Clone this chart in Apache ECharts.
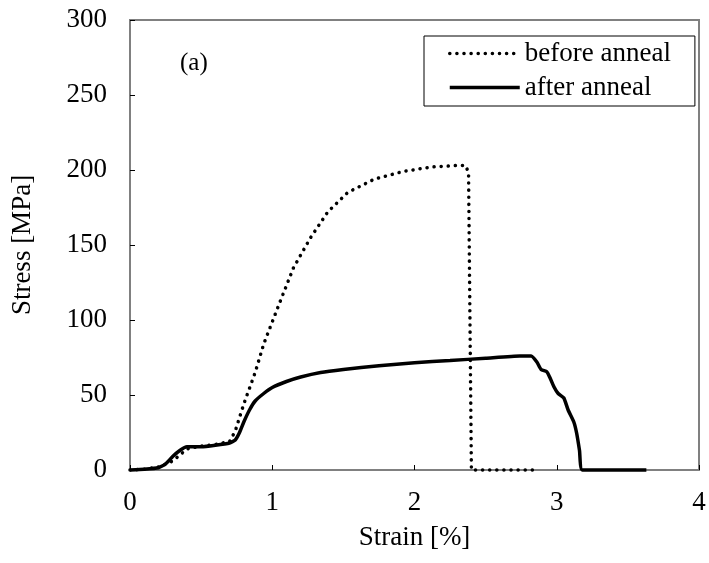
<!DOCTYPE html>
<html><head><meta charset="utf-8">
<script src="https://cdn.jsdelivr.net/npm/echarts@6/dist/echarts.min.js"></script>
<style>html,body{margin:0;padding:0;background:#fff}#c{width:709px;height:563px}</style>
</head><body><div id="c"></div>
<script>
const beforeX = [0, 0.1, 0.2, 0.3, 0.35, 0.4, 0.5, 0.6, 0.7, 0.74, 0.8, 0.88, 0.94, 1.05, 1.15, 1.27, 1.39, 1.53, 1.72, 1.92, 2.12, 2.3, 2.36, 2.38, 2.4, 2.85];
const beforeY = [0, 0.5, 2, 6, 10, 14, 16, 17, 19, 26, 44, 65, 84, 111, 135, 155, 172, 185, 194, 199, 202, 203, 203, 198, 0, 0];
const afterX = [0, 0.1, 0.2, 0.25, 0.3, 0.35, 0.4, 0.5, 0.6, 0.7, 0.74, 0.77, 0.8, 0.84, 0.88, 0.94, 1.0, 1.1, 1.2, 1.34, 1.5, 1.75, 2.0, 2.25, 2.5, 2.74, 2.82, 2.86, 2.89, 2.93, 2.95, 2.98, 3.01, 3.05, 3.08, 3.12, 3.14, 3.16, 3.18, 3.63];
const afterY = [0, 0.5, 1.5, 4, 9, 13, 15.5, 15.5, 16.5, 18, 20, 25, 32, 40, 46, 51, 55, 59, 62, 65, 67, 69.5, 71.5, 73, 74.5, 76, 76, 72, 67, 65.5, 62, 55.5, 51, 48, 40, 32, 24.5, 13, 0, 0];
const xTicks = [0, 1, 2, 3, 4];
const yTicks = [0, 50, 100, 150, 200, 250, 300];
const seriesNames = ['before anneal', 'after anneal'];

const zip = (xs, ys) => xs.map((x, i) => [x, ys[i]]);
const font = 'Liberation Serif';
const chart = echarts.init(document.getElementById('c'));
chart.setOption({
  animation: false,
  backgroundColor: '#fff',
  grid: {left: 130, right: 10, top: 20, bottom: 93, show: true, borderColor: '#808080', borderWidth: 2, outerBoundsMode: 'none', containLabel: false},
  xAxis: {
    type: 'value', min: xTicks[0], max: xTicks[xTicks.length - 1], interval: 1,
    name: 'Strain [%]', nameLocation: 'middle', nameGap: 54,
    nameTextStyle: {fontFamily: font, fontSize: 27, color: '#000'},
    axisLine: {show: true, lineStyle: {color: '#808080', width: 2}},
    axisTick: {show: true, inside: true, length: 5, lineStyle: {color: '#000', width: 1}},
    axisLabel: {fontFamily: font, fontSize: 27, color: '#000', margin: 19},
    splitLine: {show: false}
  },
  yAxis: {
    type: 'value', min: yTicks[0], max: yTicks[yTicks.length - 1], interval: 50,
    name: 'Stress [MPa]', nameLocation: 'middle', nameGap: 94,
    nameTextStyle: {fontFamily: font, fontSize: 27, color: '#000'},
    axisLine: {show: true, lineStyle: {color: '#808080', width: 2}},
    axisTick: {show: true, inside: true, length: 5, lineStyle: {color: '#000', width: 1}},
    axisLabel: {fontFamily: font, fontSize: 27, color: '#000', margin: 23},
    splitLine: {show: false}
  },
  legend: {
    orient: 'vertical', left: 424, top: 36,
    data: seriesNames,
    borderColor: '#000', borderWidth: 1, borderRadius: 0,
    padding: [4, 24, 5, 24], itemGap: 7, itemWidth: 70, itemHeight: 14,
    itemStyle: {opacity: 0},
    lineStyle: {width: 3.5},
    textStyle: {fontFamily: font, fontSize: 27, color: '#000', lineHeight: 27}
  },
  graphic: [{type: 'text', left: 180, top: 51, style: {text: '(a)', font: '25px "Liberation Serif"', fill: '#000'}}],
  series: [
    {name: seriesNames[0], type: 'line', data: zip(beforeX, beforeY), symbol: 'none', clip: false,
     lineStyle: {color: '#000', width: 3.5, type: [0.1, 7], cap: 'round'}, itemStyle: {color: '#000'}},
    {name: seriesNames[1], type: 'line', data: zip(afterX, afterY), symbol: 'none', clip: false, smooth: 0.15,
     lineStyle: {color: '#000', width: 3.5}, itemStyle: {color: '#000'}}
  ]
});
</script></body></html>
